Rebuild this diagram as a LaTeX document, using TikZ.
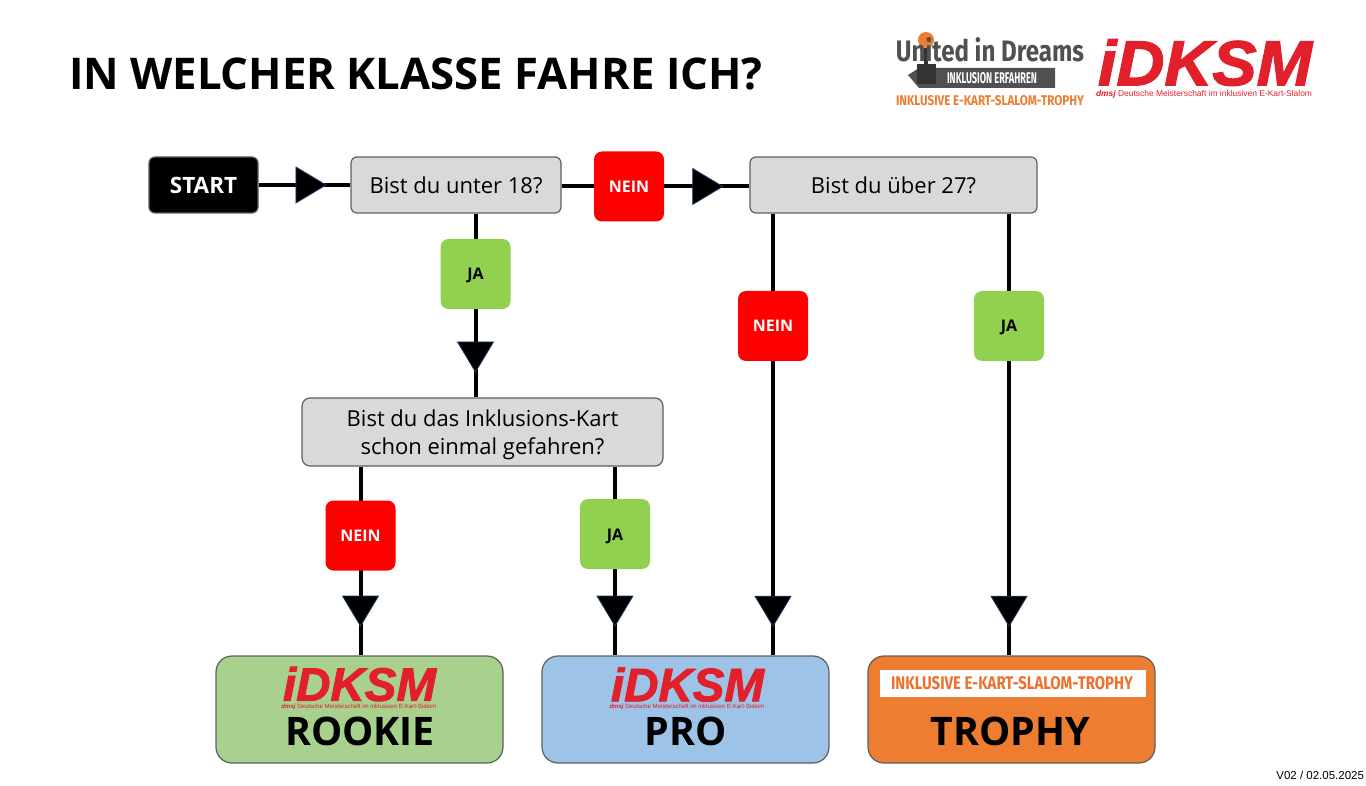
\documentclass[tikz,border=0pt]{standalone}
\usepackage{fontspec}
\setmainfont{Open Sans}
\newfontfamily\logofont{Liberation Sans}
\newfontfamily\idksmfont{Liberation Sans Bold Italic}[FakeBold=2]
\newfontfamily\slimfont{Fira Sans}
\usetikzlibrary{backgrounds,decorations.markings}
\definecolor{boxgray}{HTML}{D9D9D9}
\definecolor{edgegray}{HTML}{5F5F5F}
\definecolor{jagreen}{HTML}{92D050}
\definecolor{rookiegreen}{HTML}{A9D18E}
\definecolor{problue}{HTML}{9DC3E6}
\definecolor{trophyorange}{HTML}{ED7D31}
\definecolor{logored}{HTML}{E2202C}
\definecolor{logogray}{HTML}{505050}
\definecolor{tipnavy}{HTML}{1F3864}
\newcommand{\fsize}[1]{\fontsize{#1}{#1}\selectfont}
\newcommand{\fitbox}[3]{\resizebox{#1pt}{#2pt}{#3}}
\newcommand{\subline}{{\bfseries\itshape dmsj} Deutsche Meisterschaft im inklusiven E-Kart-Slalom}
\tikzset{
  box/.style={draw=edgegray,line width=1.2pt,rounded corners=6pt,inner sep=0pt,align=center},
  question/.style={box,fill=boxgray,font=\fsize{22}},
  answer/.style={rounded corners=8pt,minimum width=70pt,minimum height=70pt,inner sep=0pt,text height=12pt,text depth=0pt,font=\bfseries\fsize{16}},
  nein/.style={answer,fill=red,text=white},
  ja/.style={answer,fill=jagreen,text=black},
  result/.style={draw=edgegray,line width=1.2pt,rounded corners=16pt,minimum width=287pt,minimum height=107pt},
  classname/.style={font=\bfseries\fsize{39.3},text=black,inner sep=0pt},
  flat/.style={inner sep=0pt,outer sep=0pt},
  link/.style={line width=4pt,black},
  tipat/.style={postaction={decorate,decoration={markings,
    mark=at position #1 with {\draw[fill=black,draw=tipnavy,line width=0.8pt,line join=miter]
      (-15pt,18pt) -- (15pt,0pt) -- (-15pt,-18pt) -- cycle;}}}}
}
\begin{document}
\begin{tikzpicture}[x=1pt,y=-1pt]
  \useasboundingbox (0,0) rectangle (1366,786);
  \node[flat,anchor=west,font=\bfseries\fsize{43.7}] (title) at (69,74) {IN WELCHER KLASSE FAHRE ICH?};
  % flow boxes
  \node[box,fill=black,text=white,font=\bfseries\fsize{22.5},text height=18pt,minimum width=109pt,minimum height=56pt] (start) at (203.5,185) {START};
  \node[question,minimum width=210pt,minimum height=56pt] (under) at (456,185) {Bist du unter 18?};
  \node[question,minimum width=287pt,minimum height=56pt] (over) at (893.5,185) {Bist du über 27?};
  \node[question,minimum width=361pt,minimum height=68pt,rounded corners=8pt] (driven) at (482.5,432) {\rule{0pt}{23pt}Bist du das Inklusions-Kart\\[6pt]schon einmal gefahren?};
  \node[nein] (neinover) at (629,186.5) {NEIN};
  \node[ja] (jadriven) at (475.5,274) {JA};
  \node[nein] (neinpro) at (773,326) {NEIN};
  \node[ja] (jatrophy) at (1009,326) {JA};
  \node[nein] (neinrookie) at (360.5,535.5) {NEIN};
  \node[ja] (japro) at (615,534) {JA};
  \node[result,fill=rookiegreen] (rookie) at (359.5,709.5) {};
  \node[result,fill=problue] (pro) at (685.5,709.5) {};
  \node[result,fill=trophyorange] (trophy) at (1011.5,709.5) {};
  % connectors go behind the boxes
  \begin{scope}[on background layer]
    \draw[link,tipat=0.57] (start.east) -- (under.west) ;
    \draw[link] (under.east |- neinover) -- (neinover.west) ;
    \draw[link,tipat=0.51] (neinover.east) -- (over.west |- neinover) ;
    \draw[link,tipat=0.78] (under.south -| jadriven) -- (driven.north -| jadriven) ;
    \draw[link,tipat=0.90] (over.south -| neinpro) -- (pro.north -| neinpro) ;
    \draw[link,tipat=0.90] (over.south -| jatrophy) -- (trophy.north -| jatrophy) ;
    \draw[link,tipat=0.765] (driven.south -| neinrookie) -- (rookie.north -| neinrookie) ;
    \draw[link,tipat=0.765] (driven.south -| japro) -- (pro.north -| japro) ;
  \end{scope}
  % class labels
  \node[flat,text=logored,font=\idksmfont] (rookielogo) at (359.5,684) {\fitbox{153}{34}{iDKSM}};
  \node[flat,text=logored,font=\logofont] (rookiesub) at (359,707) {\resizebox{155pt}{!}{\subline}};
  \node[classname] (rookiename) at (360,731) {ROOKIE};
  \node[flat,text=logored,font=\idksmfont] (prologo) at (687.5,684.5) {\fitbox{153}{34}{iDKSM}};
  \node[flat,text=logored,font=\logofont] (prosub) at (687,707) {\resizebox{155pt}{!}{\subline}};
  \node[classname] (proname) at (685.5,731) {PRO};
  \node[flat,fill=white,minimum width=266pt,minimum height=27pt] (trophyband) at (1013,683.5) {};
  \node[flat,text=trophyorange!90!red,font=\slimfont\bfseries] (trophytext) at (1012,683.5) {\fitbox{242}{13}{INKLUSIVE E-KART-SLALOM-TROPHY}};
  \node[classname] (trophyname) at (1010,731) {TROPHY};
  % logos top right
  \fill[logogray] (919,68) -- (1055,68) -- (1055,88) -- (919,88) -- (908,75) -- cycle ;
  \fill[black!80] (917,64) rectangle (936,84) ;
  \fill[black!80] (924,48) rectangle (928,66) ;
  \fill[trophyorange] (926,40) circle (8) ;
  \node[flat,text=logogray,font=\slimfont\bfseries] (dreams) at (990,50) {\fitbox{188}{24}{United in Dreams}};
  \node[flat,text=white,font=\slimfont\bfseries] (erfahren) at (992,78) {\fitbox{90}{11}{INKLUSION ERFAHREN}};
  \node[flat,text=trophyorange,font=\slimfont\bfseries] (trophylogo) at (990,101) {\fitbox{188}{10}{INKLUSIVE E-KART-SLALOM-TROPHY}};
  \node[flat,text=logored,font=\idksmfont] (mainlogo) at (1205,62.5) {\fitbox{214}{46}{iDKSM}};
  \node[flat,text=logored,font=\logofont] (mainsub) at (1204,94) {\resizebox{216pt}{!}{\subline}};
  \node[flat,anchor=east,font=\logofont\fsize{11.5}] (version) at (1364,775) {V02 / 02.05.2025};
\end{tikzpicture}
\end{document}
